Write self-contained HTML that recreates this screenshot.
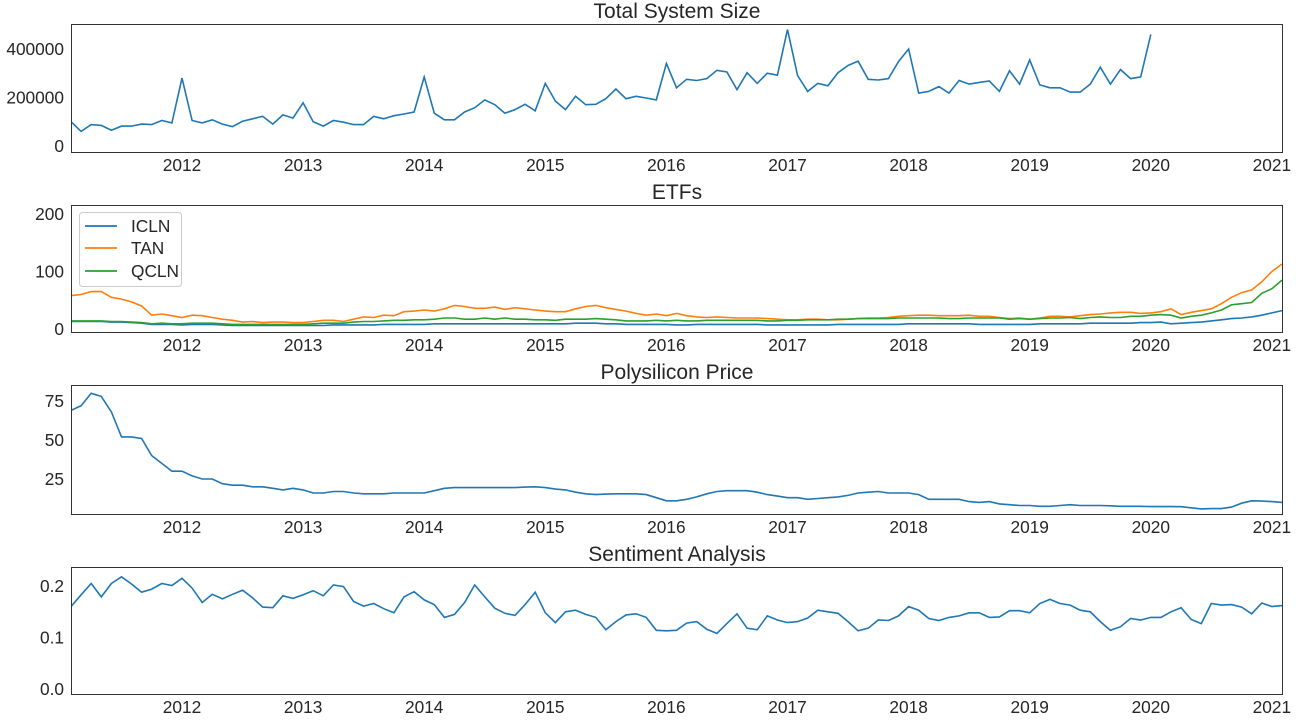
<!DOCTYPE html>
<html><head><meta charset="utf-8"><style>
html,body{margin:0;padding:0;background:#fff;}
svg{display:block;font-family:"Liberation Sans","DejaVu Sans",sans-serif;}
</style></head><body>
<svg id="chart" width="1296" height="720"></svg>
<script>
const systemSize=[100000,60000,88000,85000,65000,82000,82000,90000,88000,105000,95000,
280000,105000,95000,108000,90000,80000,102000,112000,122000,90000,128000,115000,
178000,100000,82000,105000,98000,88000,88000,122000,112000,125000,132000,140000,
285000,135000,108000,108000,140000,158000,190000,170000,135000,150000,172000,145000,
258000,185000,150000,205000,170000,172000,195000,235000,195000,205000,198000,190000,
340000,240000,275000,270000,278000,312000,305000,232000,302000,258000,300000,292000,
480000,290000,225000,258000,248000,302000,332000,350000,275000,272000,278000,348000,
400000,218000,225000,245000,218000,270000,255000,262000,268000,225000,310000,255000,
355000,252000,240000,240000,222000,222000,255000,325000,255000,315000,278000,285000,
460000];
const icln=[13,13,13,13,12,12,11,10,8,8,8,
7,8,8,8,7,6,6,6,6,6,6,6, 6,6,6,7,7,7,7,7,8,8,8,8, 8,9,9,9,9,9,9,9,9,9,9,9,
9,9,9,10,10,10,9,9,8,8,8,8, 8,7,7,8,8,8,8,8,8,8,7,7, 7,7,7,7,7,8,8,8,8,8,8,8,
9,9,9,9,9,9,9,8,8,8,8,8, 8,9,9,9,9,9,10,10,10,10,10,11, 11,12,9,10,11,12,14,16,18,19,21,24, 28,32];
const tan=[58,60,65,65,55,52,47,40,24,26,23,
20,24,23,20,17,15,12,13,11,12,12,11, 11,13,15,15,13,17,21,20,24,23,30,31,
33,31,35,41,39,36,36,38,34,37,35,33, 31,30,30,35,39,41,37,34,31,27,24,26,
23,27,23,21,20,21,20,19,19,19,18,17, 16,16,17,17,16,16,17,18,19,19,20,22,
23,24,24,23,23,23,24,22,22,20,18,19, 17,19,22,22,21,23,25,26,28,29,29,27,
28,30,35,25,29,32,35,44,55,63,68,82, 100,113];
const qcln=[14,14,14,14,13,13,12,11,9,10,9,
9,10,10,10,9,8,8,8,8,8,8,8, 8,9,10,10,10,12,13,13,14,15,15,16,
16,17,19,19,17,17,19,17,19,17,17,16, 16,15,17,17,17,18,17,16,14,14,14,15,
14,15,14,14,15,15,15,15,15,15,14,14, 15,15,16,16,16,17,17,18,18,18,18,19,
19,19,19,19,18,18,19,19,19,19,17,18, 17,18,19,19,20,18,20,21,20,20,22,22,
24,25,24,19,22,24,28,33,42,44,46,62, 70,85];
const poly=[69,72,80,78,68,52,52,51,40,35,30,
30,27,25,25,22,21,21,20,20,19,18,19, 18,16,16,17,17,16,15.5,15.5,15.5,16,16,16,
16,17.5,19,19.5,19.5,19.5,19.5,19.5,19.5,19.5,19.8,20, 19.5,18.5,18,16.5,15.5,15,15.3,15.5,15.5,15.5,15,13,
11,11,12,13.5,15.5,17,17.5,17.5,17.5,16.5,15,14, 13,13,12,12.5,13,13.5,14.5,16,16.5,17,16,16,
16,15,12,12,12,12,10.5,10,10.5,9,8.5,8, 8,7.5,7.5,8,8.5,8,8,8,7.8,7.5,7.5,7.5,
7.3,7.3,7.3,7.2,6.5,5.8,6,6,7,9.5,11,10.8, 10.5,10];
const sentiment=[.160,.183,.205,.179,.205,.218,.204,.188,.194,.205,.201,
.215,.196,.168,.184,.175,.184,.192,.177,.159,.158,.181,.176,
.183,.191,.181,.202,.199,.170,.161,.166,.156,.148,.179,.189,
.173,.164,.139,.145,.168,.202,.179,.157,.147,.143,.164,.188,
.148,.129,.150,.153,.145,.139,.115,.131,.144,.146,.139,.114,
.113,.114,.128,.131,.116,.108,.127,.146,.118,.115,.142,.134,
.129,.131,.138,.153,.150,.147,.131,.113,.118,.134,.133,.142,
.160,.153,.137,.133,.139,.142,.148,.148,.139,.140,.152,.152,
.148,.166,.174,.166,.163,.153,.150,.131,.114,.121,.137,.134,
.139,.139,.150,.158,.135,.127,.166,.163,.164,.159,.146,.167,
.160,.162];
const yearTicks=[2012,2013,2014,2015,2016,2017,2018,2019,2020,2021];
const sysTicks=[0,200000,400000], etfTicks=[0,100,200], polyTicks=[25,50,75], sentTicks=[0.0,0.1,0.2];
const sentTickLabels=["0.0","0.1","0.2"];

const NS="http://www.w3.org/2000/svg";
const svg=document.getElementById('chart');
function mk(tag,attrs,parent){const e=document.createElementNS(NS,tag);for(const k in attrs)e.setAttribute(k,attrs[k]);(parent||svg).appendChild(e);return e;}
const X0=71,X1=1283;
function xs(i){const t=2011+(1+i)/12;return 182+(t-2012)*121.1;}
function xYear(y){return 182+(y-2012)*121.1;}
const C={b:'#1f77b4',o:'#ff7f0e',g:'#2ca02c'};
const TF=17.3;

function panel(name,title,top,bot,vmin,vmax,ticks,labels,series){
  const g=mk('g',{});
  
  
  const ys=v=>bot-(v-vmin)/(vmax-vmin)*(bot-top);
  const t=mk('text',{x:(X0+X1)/2,y:top-6,'text-anchor':'middle','font-size':21,fill:'#262626'},g);
  t.textContent=title;
  
  
  ticks.forEach((v,k)=>{
    const tl=mk('text',{x:X0-7,y:ys(v)+6,'text-anchor':'end','font-size':TF,fill:'#262626'},g);
    tl.textContent=labels?labels[k]:String(v);
    
    
  });
  yearTicks.forEach(y=>{
    const tl=mk('text',{x:xYear(y),y:bot+18,'text-anchor':'middle','font-size':TF,fill:'#262626'},g);
    tl.textContent=String(y);
    
    
  });
  const cp='clip-'+name;
  const d=mk('defs',{},g);const c=mk('clipPath',{id:cp},d);mk('rect',{x:X0,y:top,width:X1-X0,height:bot-top},c);
  series.forEach(s=>{
    let p='';s.data.forEach((v,i)=>{p+=(i?'L':'M')+xs(i).toFixed(1)+','+ys(v).toFixed(1);});
    const l=mk('path',{d:p,fill:'none',stroke:s.color,'stroke-width':1.6,'clip-path':'url(#'+cp+')'},g);
    
    
  });
  const fr=mk('rect',{x:X0+0.5,y:top+0.5,width:X1-X0-1,height:bot-top-1,fill:'none',stroke:'#333','stroke-width':1},g);
  
  
}
panel('system-size','Total System Size',24,153,-29000,503000,sysTicks,null,[{name:'system-size',data:systemSize,color:C.b}]);
panel('etfs','ETFs',205,333,-7,215.6,etfTicks,null,[{name:'icln',data:icln,color:C.b},{name:'tan',data:tan,color:C.o},{name:'qcln',data:qcln,color:C.g}]);
panel('polysilicon','Polysilicon Price',385,515,1.9,85.3,polyTicks,null,[{name:'polysilicon',data:poly,color:C.b}]);
panel('sentiment','Sentiment Analysis',567,695,-0.0117,0.237,sentTicks,sentTickLabels,[{name:'sentiment',data:sentiment,color:C.b}]);

const lg=mk('g',{});


mk('rect',{x:79.5,y:212.5,width:102,height:74,rx:3,fill:'#fff','fill-opacity':0.8,stroke:'#ccc'},lg);
[['ICLN',C.b,226],['TAN',C.o,248],['QCLN',C.g,271]].forEach(r=>{
  const e=mk('g',{},lg);
  
  
  mk('line',{x1:85,x2:117,y1:r[2],y2:r[2],stroke:r[1],'stroke-width':1.8},e);
  const t=mk('text',{x:131,y:r[2]+6,'font-size':TF,fill:'#262626'},e);t.textContent=r[0];
});
</script>
</body></html>
